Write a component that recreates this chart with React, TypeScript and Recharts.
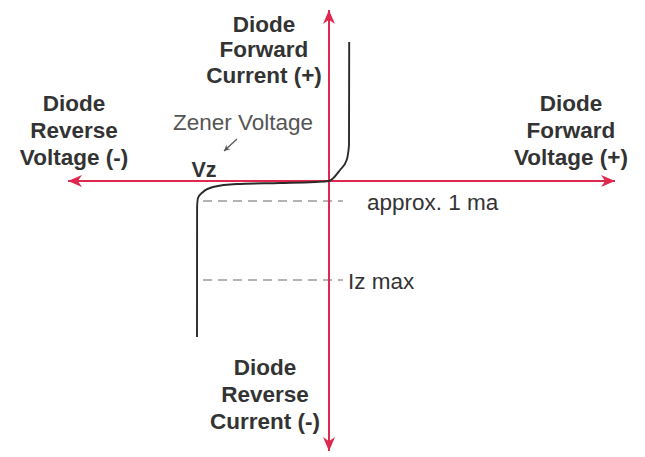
import React from "react";
import { LineChart, Line, XAxis, YAxis, ReferenceLine, ReferenceDot } from "recharts";

// Zener diode I-V characteristic (schematic units)
const voltage = [-13.2, -13.19, -13.1, -12.6, -11.6, -9.2, -4.9, -1.4, 0, 1.1, 1.77, 2.0, 2.02];
const current = [-15.6, -2.6, -1.7, -1.1, -0.6, -0.3, -0.2, -0.1, 0, 1.1, 2.1, 3.6, 13.9];

// axis extents
const xAxisRange = [-26.1, 28.6];
const yAxisRange = [-27.0, 17.1];

// dashed reference currents
const refCurrents = [-2.0, -9.9];
const refStart = -12.6;
const refEnd = 1.4;

const titleLabels: { x: number; y: number; gap: number; lines: string[] }[] = [
  { x: -6.5, y: 14.93, gap: 25.5, lines: ["Diode", "Forward", "Current (+)"] },
  { x: -25.5, y: 7.0, gap: 27, lines: ["Diode", "Reverse", "Voltage (-)"] },
  { x: 24.2, y: 7.0, gap: 27, lines: ["Diode", "Forward", "Voltage (+)"] },
  { x: -6.4, y: -19.4, gap: 27, lines: ["Diode", "Reverse", "Current (-)"] },
];
const noteLabels: { x: number; y: number; text: string }[] = [
  { x: 3.8, y: -2.9, text: "approx. 1 ma" },
  { x: 1.9, y: -10.8, text: "Iz max" },
];
const zenerLabel = { x: -8.6, y: 5.1, text: "Zener Voltage" };
const vzLabel = { x: -12.5, y: 0.45, text: "Vz" };
const zenerArrow = [{ x: -9.2, y: 4.2 }, { x: -10.5, y: 3.0 }];

const data = voltage.map((v, i) => ({ v, i: current[i] }));

const FONT = "'Liberation Sans', Arial, sans-serif";
const AXIS_RED = "#e0284e";

function arrowHead(x1: number, y1: number, x2: number, y2: number, len: number, w: number) {
  const dx = x2 - x1;
  const dy = y2 - y1;
  const d = Math.sqrt(dx * dx + dy * dy) || 1;
  const ux = dx / d;
  const uy = dy / d;
  const bx = x2 - ux * len;
  const by = y2 - uy * len;
  const nx = -uy;
  const ny = ux;
  return `${x2},${y2} ${bx + nx * w},${by + ny * w} ${x2 - ux * len * 0.7},${y2 - uy * len * 0.7} ${bx - nx * w},${by - ny * w}`;
}

function makeArrow(color: string, width: number, both: boolean, len: number, w: number) {
  return (p: any) => {
    const { x1, y1, x2, y2 } = p;
    return (
      <g>
        <line x1={x1} y1={y1} x2={x2} y2={y2} stroke={color} strokeWidth={width} />
        <polygon points={arrowHead(x1, y1, x2, y2, len, w)} fill={color} />
        {both && <polygon points={arrowHead(x2, y2, x1, y1, len, w)} fill={color} />}
      </g>
    );
  };
}

export default function App() {
  return (
    <div style={{ position: "absolute", left: 0, top: 0, background: "#fff" }}>
      <LineChart
        width={645}
        height={457}
        data={data}
        margin={{ top: 1, right: 16, bottom: 6, left: 29 }}
      >
        <XAxis type="number" dataKey="v" domain={[-30, 30]} hide allowDataOverflow />
        <YAxis type="number" dataKey="i" domain={[-27, 18]} hide allowDataOverflow />

        {refCurrents.map((c) => (
          <ReferenceLine
            key={c}
            segment={[{ x: refStart, y: c }, { x: refEnd, y: c }]}
            stroke="#9a9a9a"
            strokeWidth={1.3}
            strokeDasharray="9 6"
            ifOverflow="visible"
          />
        ))}

        <ReferenceLine
          segment={[{ x: xAxisRange[0], y: 0 }, { x: xAxisRange[1], y: 0 }]}
          ifOverflow="visible"
          shape={makeArrow(AXIS_RED, 2, true, 14, 6)}
        />
        <ReferenceLine
          segment={[{ x: 0, y: yAxisRange[0] }, { x: 0, y: yAxisRange[1] }]}
          ifOverflow="visible"
          shape={makeArrow(AXIS_RED, 2, true, 14, 6)}
        />
        <ReferenceLine
          segment={zenerArrow}
          ifOverflow="visible"
          shape={makeArrow("#555", 1.2, false, 6, 3)}
        />

        <Line
          type="monotone"
          dataKey="i"
          stroke="#2a2a2a"
          strokeWidth={1.9}
          dot={false}
          isAnimationActive={false}
        />

        {titleLabels.map((t) => (
          <ReferenceDot
            key={t.lines.join("-")}
            x={t.x}
            y={t.y}
            r={0}
            ifOverflow="visible"
            shape={(p: any) => (
              <text
                x={p.cx}
                y={p.cy}
                textAnchor="middle"
                fontFamily={FONT}
                fontWeight="bold"
                fontSize={22.5}
                fill="#333"
              >
                {t.lines.map((ln, k) => (
                  <tspan key={k} x={p.cx} dy={k === 0 ? 0 : t.gap}>
                    {ln}
                  </tspan>
                ))}
              </text>
            )}
          />
        ))}

        {noteLabels.map((n) => (
          <ReferenceDot
            key={n.text}
            x={n.x}
            y={n.y}
            r={0}
            ifOverflow="visible"
            shape={(p: any) => (
              <text x={p.cx} y={p.cy} textAnchor="start" fontFamily={FONT} fontSize={22.5} fill="#333">
                {n.text}
              </text>
            )}
          />
        ))}

        <ReferenceDot
          x={zenerLabel.x}
          y={zenerLabel.y}
          r={0}
          ifOverflow="visible"
          shape={(p: any) => (
            <text x={p.cx} y={p.cy} textAnchor="middle" fontFamily={FONT} fontSize={22.5} fill="#555">
              {zenerLabel.text}
            </text>
          )}
        />
        <ReferenceDot
          x={vzLabel.x}
          y={vzLabel.y}
          r={0}
          ifOverflow="visible"
          shape={(p: any) => (
            <text
              x={p.cx}
              y={p.cy}
              textAnchor="middle"
              fontFamily={FONT}
              fontWeight="bold"
              fontSize={21.5}
              fill="#333"
            >
              {vzLabel.text}
            </text>
          )}
        />
      </LineChart>
    </div>
  );
}
